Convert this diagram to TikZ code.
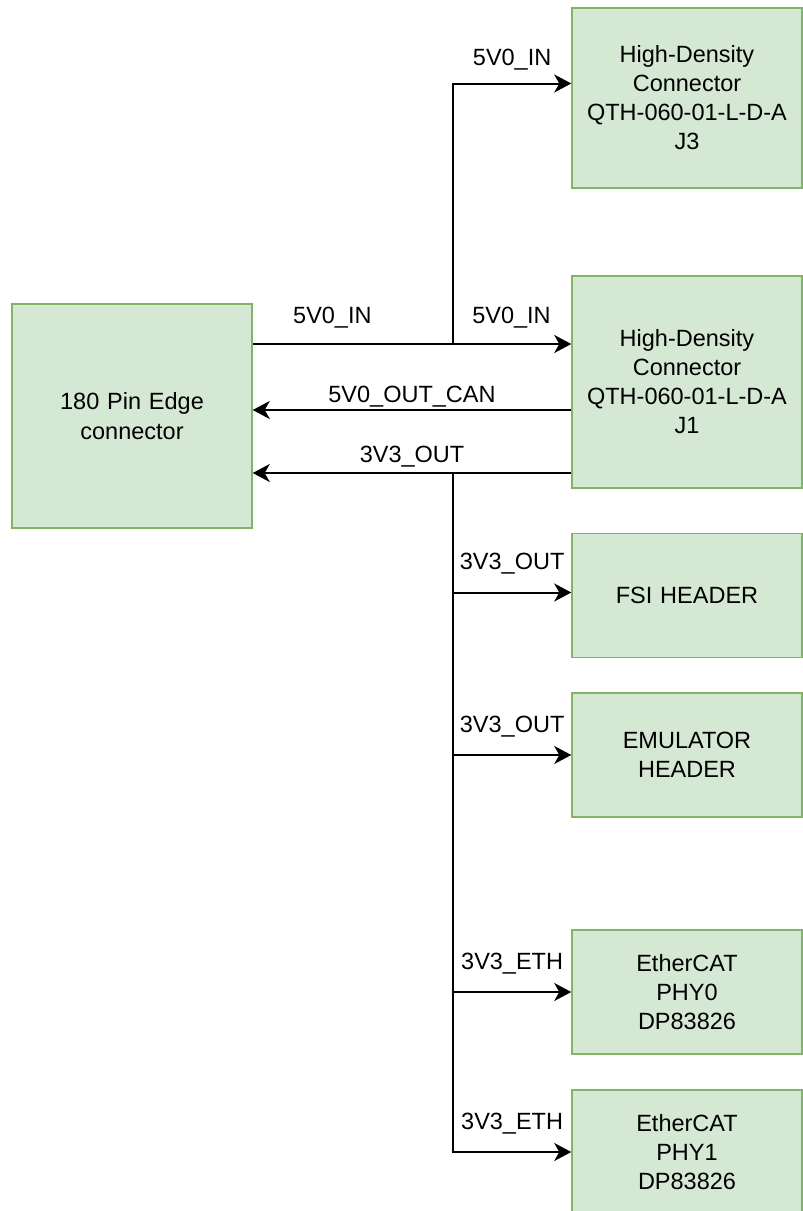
\documentclass[tikz,border=0pt]{standalone}
\usepackage{fontspec}
\setmainfont{Liberation Sans}
\usepackage{tikz}
\usetikzlibrary{
  arrows.meta,
  positioning,
  calc
}
\definecolor{verdefondo}{HTML}{D5E8D4}
\definecolor{verdeborde}{HTML}{82B366}

\begin{document}
\begin{tikzpicture}[
  x=1pt, y=1pt,
  blk/.style  = {
    rectangle, draw=verdeborde, fill=verdefondo, line width=1.5pt,
    inner sep=0pt, text width=230pt, align=center, minimum height=124pt,
    font=\fontsize{23.5}{29}\selectfont
  },
  edgeblk/.style = {
    blk, text width=240pt, minimum height=224pt,
    font=\fontsize{23.5}{30}\selectfont
  },
  lbl/.style  = {inner sep=0pt, anchor=base, font=\fontsize{23.5}{28}\selectfont},
  arr/.style  = {-{Stealth[length=17pt, width=18pt, inset=5pt]}, line width=2pt, black},
  node distance = 34pt
]
\useasboundingbox (0,0) rectangle (803,-1211);

% Conector de borde
\node[edgeblk] (edge) at (132,-416) {180 Pin Edge\\connector};

% Columna derecha
\node[blk, minimum height=212pt] (j1) at (687,-382)
  {High-Density\\Connector\\QTH-060-01-L-D-A\\J1};
\node[blk, minimum height=180pt, above=86.5pt of j1] (j3)
  {High-Density\\Connector\\QTH-060-01-L-D-A\\J3};
\node[blk, below=44pt of j1]     (fsi)  {FSI HEADER};
\node[blk, below=of fsi]         (emu)  {EMULATOR\\HEADER};
\node[blk, below=111.5pt of emu] (phy0) {EtherCAT\\PHY0\\DP83826};
\node[blk, below=34.5pt of phy0] (phy1) {EtherCAT\\PHY1\\DP83826};

% Puntos de derivacion
\coordinate (sp5) at (453,-344);
\coordinate (sp3) at (453,-473);

% 5V0
\draw[arr] ([yshift=72pt]edge.east) --
  node[lbl, pos=0.25, yshift=21pt]{5V0\_IN}
  node[lbl, pos=0.8125, yshift=21pt]{5V0\_IN} ([yshift=38pt]j1.west);
\draw[arr] (sp5) |- node[lbl, pos=0.75, yshift=18pt]{5V0\_IN} ([yshift=14.5pt]j3.west);
\draw[arr] ([yshift=-28pt]j1.west) -- node[lbl, yshift=8pt]{5V0\_OUT\_CAN} ([yshift=6pt]edge.east);

% 3V3
\draw[arr] ([yshift=-91pt]j1.west) -- node[lbl, yshift=11pt]{3V3\_OUT} ([yshift=-57pt]edge.east);
\draw[arr] (sp3) |- node[lbl, pos=0.75, yshift=23pt]{3V3\_OUT} ([yshift=3pt]fsi.west);
\draw[arr] (sp3) |- node[lbl, pos=0.75, yshift=23pt]{3V3\_OUT} (emu.west);
\draw[arr] (sp3) |- node[lbl, pos=0.75, yshift=23pt]{3V3\_ETH} (phy0.west);
\draw[arr] (sp3) |- node[lbl, pos=0.75, yshift=23pt]{3V3\_ETH} (phy1.west);

\end{tikzpicture}
\end{document}
